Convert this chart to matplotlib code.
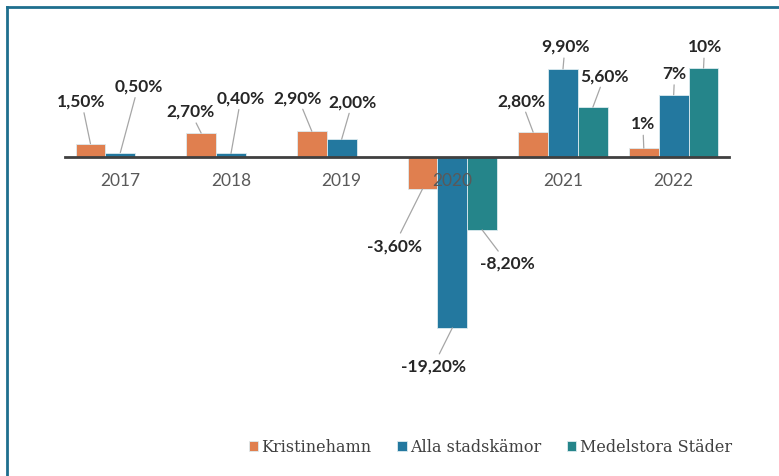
import numpy as np
import matplotlib.pyplot as plt
from matplotlib.patches import Patch
from matplotlib.lines import Line2D

years = ['2017', '2018', '2019', '2020', '2021', '2022']
series = ['Kristinehamn', 'Alla stadskämor', 'Medelstora Städer']
kristinehamn = [1.5, 2.7, 2.9, -3.6, 2.8, 1.0]
alla = [0.5, 0.4, 2.0, -19.2, 9.9, 7.0]
medelstora = [np.nan, np.nan, np.nan, -8.2, 5.6, 10.0]
labels_k = ['1,50%', '2,70%', '2,90%', '-3,60%', '2,80%', '1%']
labels_a = ['0,50%', '0,40%', '2,00%', '-19,20%', '9,90%', '7%']
labels_m = ['', '', '', '-8,20%', '5,60%', '10%']

colors = ['#E07F4F', '#23789F', '#25858A']

# label offsets in pixels from the bar end (style only)
offs = [
    [(-9, 43), (-11, 22), (-14, 34), (-28, -56), (-12, 32), (-1, 25)],
    [(18, 67), (10, 56), (11, 38), (-19, -38), (2, 23), (1, 22)],
    [(0, 0), (0, 0), (0, 0), (25, -33), (12, 32), (1, 22)],
]

fig = plt.figure(figsize=(7.79, 4.77), dpi=100)
ax = fig.add_axes([65 / 779, 1 - 353.8 / 477, 664 / 779, 302.6 / 477])
ax.set_axisbelow(False)

x = np.arange(len(years))
w = 0.27
data = [kristinehamn, alla, medelstora]
labs = [labels_k, labels_a, labels_m]
for i, (vals, col) in enumerate(zip(data, colors)):
    pos = x + (i - 1) * w
    ax.bar(pos, vals, width=w, color=col, edgecolor='#DDEBF0', linewidth=0.6, zorder=1)
    for j, v in enumerate(vals):
        if np.isnan(v):
            continue
        dx, dy = offs[i][j]
        ax.annotate(labs[i][j], xy=(pos[j], v), xytext=(dx, dy),
                    textcoords='offset pixels', ha='center', va='center',
                    fontsize=12.5, fontweight='bold', family='Lato', color='#262626',
                    arrowprops=dict(arrowstyle='-', color='#A6A6A6', lw=0.9,
                                    shrinkA=1, shrinkB=0))

ax.set_xlim(-0.5, 5.5)
ax.set_ylim(-22, 12)
for s in ['top', 'right', 'left']:
    ax.spines[s].set_visible(False)
ax.spines['bottom'].set_position(('data', 0))
ax.spines['bottom'].set_color('#404040')
ax.spines['bottom'].set_linewidth(2)
ax.spines['bottom'].set_zorder(3)
ax.set_yticks([])
ax.set_xticks(x)
ax.set_xticklabels(years, fontsize=12.5, family='Lato', color='#595959')
ax.tick_params(axis='x', length=0, pad=11)

handles = [Patch(facecolor=c, edgecolor='#DDEBF0', linewidth=0.6) for c in colors]
fig.legend(handles, series, loc='center right', bbox_to_anchor=(746 / 779, 1 - 448 / 477),
           ncol=3, frameon=False, handlelength=0.6, handleheight=0.6, handletextpad=0.2,
           columnspacing=1.6, prop={'family': 'DejaVu Serif', 'size': 11.5}, labelcolor='#404040')

# frame lines on top and left of the picture
fig.add_artist(Line2D([7 / 779, 1], [1 - 8 / 477, 1 - 8 / 477], transform=fig.transFigure,
                      color='#1E6F8E', lw=2))
fig.add_artist(Line2D([7 / 779, 7 / 779], [0, 1 - 8 / 477], transform=fig.transFigure,
                      color='#1E6F8E', lw=2))

fig.savefig('out.png', dpi=100)
